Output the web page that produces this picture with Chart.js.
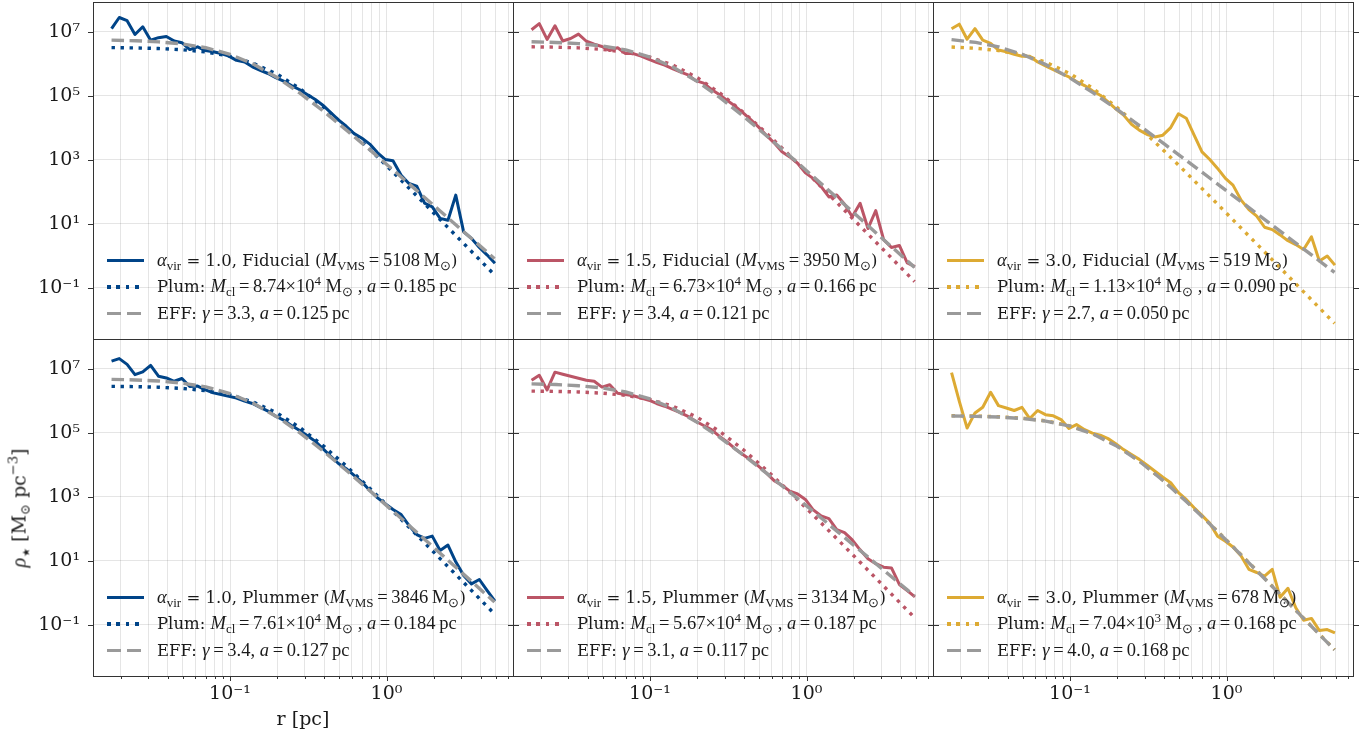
<!DOCTYPE html>
<html>
<head>
<meta charset="utf-8">
<script src="https://cdn.jsdelivr.net/npm/chart.js@4.4.1/dist/chart.umd.min.js"></script>
<style>
  body { margin: 0; background: #fff; width: 1369px; height: 735px; position: relative; overflow: hidden; }
  canvas { position: absolute; }
  .legend { position: absolute; font-family: 'DejaVu Serif', serif; font-size: 16.5px; color: #1a1a1a; white-space: nowrap; }
  .row { height: 26.5px; display: flex; align-items: center; }
  .sample { width: 37px; height: 3.5px; margin-right: 13px; flex: none; }
  .mi { font-family: 'Liberation Serif', serif; font-style: italic; font-size: 18.5px; }
  .mr { font-family: 'Liberation Serif', serif; font-size: 18.5px; }
  .sb { font-family: 'Liberation Serif', serif; font-size: 13px; position: relative; top: 4px; }
  .sp { font-family: 'Liberation Serif', serif; font-size: 13px; position: relative; top: -7px; }
  .title { position: absolute; font-family: 'DejaVu Serif', serif; font-size: 19px; color: #1a1a1a; white-space: nowrap; }
</style>
</head>
<body>
<script>
// radial bins of the simulated profiles (pc)
const radii = [0.0175, 0.0196, 0.0220, 0.0247, 0.0277, 0.0311, 0.0349, 0.0392, 0.0440, 0.0493,
               0.0553, 0.0621, 0.0697, 0.0782, 0.0877, 0.0984, 0.110, 0.124, 0.139, 0.156,
               0.175, 0.196, 0.220, 0.247, 0.277, 0.311, 0.349, 0.392, 0.440, 0.493,
               0.553, 0.621, 0.697, 0.782, 0.877, 0.984, 1.10, 1.24, 1.39, 1.56,
               1.75, 1.96, 2.20, 2.47, 2.77, 3.11, 3.49, 3.92, 4.40, 4.93];
// radii where the fitted profiles are read
const fitRadii = [0.0175, 0.025, 0.035, 0.05, 0.07, 0.1, 0.14, 0.2, 0.28, 0.4, 0.56, 0.8, 1.1, 1.6, 2.2, 3.1, 4.4, 4.9];

// density profiles (Msun pc^-3)
const fidA10 = [1.26e7, 2.82e7, 2.24e7, 8.3e6, 1.45e7, 5.5e6, 6.6e6, 7.2e6, 5.2e6, 4.6e6,
                2.8e6, 3.4e6, 2.6e6, 2.4e6, 2.1e6, 1.74e6, 1.29e6, 1.15e6, 8.1e5, 6.3e5,
                5.0e5, 3.7e5, 2.9e5, 2.1e5, 1.58e5, 1.10e5, 7.8e4, 5.1e4, 3.0e4, 1.78e4,
                1.12e4, 6.6e3, 4.7e3, 3.1e3, 1.66e3, 1.02e3, 930, 331, 182, 151,
                44, 34, 14.8, 12.9, 79, 5.6, 3.5, 1.82, 1.05, 0.58];
const fidA15 = [1.17e7, 1.82e7, 5.8e6, 1.55e7, 5.2e6, 6.2e6, 8.5e6, 5.1e6, 4.1e6, 3.5e6,
                2.6e6, 3.2e6, 2.1e6, 2.1e6, 1.74e6, 1.38e6, 1.12e6, 9.1e5, 7.1e5, 5.6e5,
                4.5e5, 3.0e5, 2.5e5, 1.58e5, 1.10e5, 7.2e4, 4.8e4, 3.0e4, 1.82e4, 1.07e4,
                5.9e3, 3.4e3, 1.78e3, 1.23e3, 780, 390, 263, 145, 69, 79,
                41, 16.6, 44, 7.1, 26, 3.2, 1.82, 2.1, 0.60, 0.46];
const fidA30 = [1.26e7, 1.74e7, 5.9e6, 1.26e7, 5.5e6, 4.4e6, 2.7e6, 2.4e6, 2.0e6, 1.74e6,
                1.74e6, 1.15e6, 8.7e5, 6.6e5, 5.0e5, 3.9e5, 2.8e5, 2.1e5, 1.45e5, 1.05e5,
                6.5e4, 3.9e4, 2.5e4, 1.29e4, 8.5e3, 6.2e3, 5.2e3, 5.9e3, 1.02e4, 2.75e4,
                2.0e4, 5.9e3, 1.78e3, 1.02e3, 540, 263, 162, 55, 28, 17.4,
                7.8, 6.6, 4.5, 2.95, 2.24, 1.58, 3.9, 0.69, 0.98, 0.51];
const plumA10 = [1.74e7, 2.1e7, 1.38e7, 6.6e6, 8.1e6, 1.29e7, 5.9e6, 5.2e6, 4.1e6, 5.0e6,
                 2.8e6, 2.9e6, 2.2e6, 1.78e6, 1.58e6, 1.38e6, 1.23e6, 9.8e5, 8.3e5, 6.3e5,
                 4.8e5, 3.3e5, 2.5e5, 1.70e5, 1.20e5, 8.3e4, 5.5e4, 3.2e4, 1.86e4, 1.10e4,
                 7.6e3, 4.7e3, 2.9e3, 1.58e3, 930, 600, 400, 280, 129, 66,
                 50, 59, 21, 31, 9.3, 3.5, 1.9, 2.6, 1.17, 0.55];
const plumA15 = [4.4e6, 6.3e6, 2.2e6, 7.9e6, 6.8e6, 5.9e6, 5.1e6, 4.4e6, 4.1e6, 2.7e6,
                 3.2e6, 1.74e6, 1.58e6, 1.45e6, 1.23e6, 1.05e6, 8.3e5, 6.8e5, 5.4e5, 4.3e5,
                 3.3e5, 2.3e5, 1.70e5, 1.26e5, 7.9e4, 5.2e4, 3.2e4, 2.1e4, 1.41e4, 9.1e3,
                 5.6e3, 3.2e3, 2.3e3, 1.51e3, 1.23e3, 830, 400, 251, 209, 95,
                 76, 45, 22, 11.5, 8.1, 6.3, 6.0, 1.82, 1.17, 0.74];
const plumA30 = [7.6e6, 9.8e5, 1.41e5, 4.2e5, 6.3e5, 1.86e6, 7.1e5, 6.0e5, 5.0e5, 6.3e5,
                 2.8e5, 5.0e5, 3.7e5, 3.4e5, 2.6e5, 1.38e5, 1.82e5, 1.26e5, 9.8e4, 8.5e4,
                 6.6e4, 4.6e4, 3.0e4, 2.1e4, 1.48e4, 9.8e3, 6.3e3, 4.1e3, 2.75e3, 1.35e3,
                 830, 457, 263, 148, 59, 41, 27, 14.1, 5.4, 4.3,
                 3.3, 5.4, 0.72, 1.38, 0.34, 0.138, 0.158, 0.066, 0.071, 0.056];

// Plummer fits
const fidA10Plum = [3.22e6, 3.15e6, 3.02e6, 2.76e6, 2.36e6, 1.74e6, 1.06e6, 4.75e5, 1.68e5, 4.30e4, 1.00e4, 1.91e3, 414, 65.9, 13.6, 2.47, 0.431, 0.252];
const fidA15Plum = [3.42e6, 3.33e6, 3.16e6, 2.83e6, 2.33e6, 1.62e6, 9.18e5, 3.73e5, 1.21e5, 2.91e4, 6.52e3, 1.22e3, 260, 41.1, 8.47, 1.54, 0.268, 0.156];
const fidA30Plum = [3.37e6, 3.07e6, 2.60e6, 1.89e6, 1.13e6, 4.95e5, 1.71e5, 4.31e4, 9.93e3, 1.88e3, 372, 64.6, 13.3, 2.07, 0.422, 0.0760, 0.0132, 0.00773];
const plumA10Plum = [2.85e6, 2.79e6, 2.67e6, 2.44e6, 2.08e6, 1.53e6, 9.31e5, 4.15e5, 1.46e5, 3.72e4, 8.65e3, 1.65e3, 356, 56.8, 11.7, 2.13, 0.372, 0.217];
const plumA15Plum = [2.02e6, 1.98e6, 1.90e6, 1.74e6, 1.49e6, 1.10e6, 6.81e5, 3.08e5, 1.09e5, 2.82e4, 6.59e3, 1.26e3, 274, 43.7, 9.02, 1.64, 0.286, 0.167];
const plumA30Plum = [3.45e5, 3.36e5, 3.19e5, 2.87e5, 2.38e5, 1.66e5, 9.48e4, 3.91e4, 1.28e4, 3.09e3, 695, 130, 27.8, 4.41, 0.908, 0.164, 0.0287, 0.0167];

// EFF fits
const fidA10Eff = [5.52e6, 5.28e6, 4.89e6, 4.18e6, 3.20e6, 1.99e6, 1.00e6, 3.75e5, 1.21e5, 3.17e4, 8.20e3, 1.87e3, 486, 98.4, 25.2, 5.78, 1.29, 0.81];
const fidA15Eff = [4.90e6, 4.68e6, 4.30e6, 3.62e6, 2.72e6, 1.63e6, 7.91e5, 2.83e5, 8.77e4, 2.19e4, 5.48e3, 1.20e3, 303, 58.9, 14.6, 3.24, 0.695, 0.434];
const fidA30Eff = [5.71e6, 4.69e6, 3.39e6, 1.96e6, 9.51e5, 3.61e5, 1.26e5, 3.75e4, 1.14e4, 3.13e3, 916, 247, 76.0, 19.1, 5.87, 1.65, 0.452, 0.303];
const plumA10Eff = [4.70e6, 4.51e6, 4.17e6, 3.56e6, 2.74e6, 1.69e6, 8.51e5, 3.15e5, 1.00e5, 2.55e4, 6.41e3, 1.41e3, 356, 69.7, 17.3, 3.83, 0.822, 0.512];
const plumA15Eff = [3.39e6, 3.24e6, 2.98e6, 2.52e6, 1.90e6, 1.15e6, 5.74e5, 2.15e5, 7.13e4, 1.94e4, 5.30e3, 1.28e3, 355, 77.3, 21.0, 5.18, 1.23, 0.79];
const plumA30Eff = [3.37e5, 3.28e5, 3.12e5, 2.81e5, 2.32e5, 1.63e5, 9.27e4, 3.82e4, 1.25e4, 3.02e3, 679, 127, 27.2, 4.31, 0.887, 0.161, 0.0281, 0.0164];

// legend texts
const alphaVir = ['1.0', '1.5', '3.0', '1.0', '1.5', '3.0'];
const setupNames = ['Fiducial', 'Fiducial', 'Fiducial', 'Plummer', 'Plummer', 'Plummer'];
const mVms = ['5108', '3950', '519', '3846', '3134', '678'];
const plumMass = ['8.74', '6.73', '1.13', '7.61', '5.67', '7.04'];
const plumExp = ['4', '4', '4', '4', '4', '3'];
const plumA = ['0.185', '0.166', '0.090', '0.184', '0.187', '0.168'];
const effGamma = ['3.3', '3.4', '2.7', '3.4', '3.1', '4.0'];
const effA = ['0.125', '0.121', '0.050', '0.127', '0.117', '0.168'];

// ticks
const xTickValues = [0.02, 0.03, 0.04, 0.05, 0.06, 0.07, 0.08, 0.09, 0.1, 0.2, 0.3, 0.4, 0.5, 0.6, 0.7, 0.8, 0.9, 1, 2, 3, 4, 5, 6];
const xMajor = [0.1, 1];
const xTickLabels = ['10⁻¹', '10⁰'];
const yTickValues = [0.1, 10, 1000, 1e5, 1e7];
const yTickLabels = ['10⁻¹', '10¹', '10³', '10⁵', '10⁷'];

const colors = ['#004488', '#BB5566', '#DDAA33'];
const effColor = '#9a9a9a';

const sims = [fidA10, fidA15, fidA30, plumA10, plumA15, plumA30];
const plums = [fidA10Plum, fidA15Plum, fidA30Plum, plumA10Plum, plumA15Plum, plumA30Plum];
const effs = [fidA10Eff, fidA15Eff, fidA30Eff, plumA10Eff, plumA15Eff, plumA30Eff];

const colLeft = [93, 513, 933];
const rowTop = [2, 339];
const panelW = 420, panelH = 337;
const padL = 95, padT = 6, padR = 8, padB = 60;

// frame and tick marks round each panel
const framePlugin = {
    id: 'frame',
    afterDraw(chart, args, opts) {
        const { ctx, chartArea: a } = chart;
        const x = chart.scales.x, y = chart.scales.y;
        ctx.save();
        ctx.strokeStyle = '#333';
        ctx.lineWidth = 1;
        ctx.strokeRect(a.left + 0.5, a.top + 0.5, a.right - a.left, a.bottom - a.top);
        ctx.beginPath();
        yTickValues.forEach(v => {
            const py = Math.round(y.getPixelForValue(v)) + 0.5;
            ctx.moveTo(a.left - 5, py); ctx.lineTo(a.left, py);
            ctx.moveTo(a.right, py); ctx.lineTo(a.right + 6, py);
        });
        if (opts.bottom) {
            xTickValues.forEach(v => {
                const px = Math.round(x.getPixelForValue(v)) + 0.5;
                const len = xMajor.includes(v) ? 5 : 3;
                ctx.moveTo(px, a.bottom); ctx.lineTo(px, a.bottom + len);
            });
        }
        ctx.stroke();
        ctx.restore();
    }
};

function toPoints(rs, vals) {
    return rs.map((r, i) => ({ x: r, y: vals[i] }));
}

function makePanel(k) {
    const col = k % 3, row = Math.floor(k / 3);
    const canvas = document.createElement('canvas');
    canvas.width = padL + panelW + padR;
    canvas.height = padT + panelH + padB;
    canvas.style.left = (colLeft[col] - padL) + 'px';
    canvas.style.top = (rowTop[row] - padT) + 'px';
    document.body.appendChild(canvas);

    const color = colors[col];
    new Chart(canvas.getContext('2d'), {
        type: 'line',
        data: {
            datasets: [
                { data: toPoints(fitRadii, effs[k]), borderColor: effColor, borderWidth: 3.4, borderDash: [12.5, 5.5], borderCapStyle: 'butt', order: 0 },
                { data: toPoints(fitRadii, plums[k]), borderColor: color, borderWidth: 3.4, borderDash: [3.4, 5.6], borderCapStyle: 'butt', order: 1 },
                { data: toPoints(radii, sims[k]), borderColor: color, borderWidth: 3, borderJoinStyle: 'round', order: 2 }
            ]
        },
        options: {
            responsive: false,
            animation: false,
            devicePixelRatio: 1,
            layout: { padding: { top: padT, right: padR, left: 0, bottom: 0 } },
            elements: { point: { radius: 0 }, line: { tension: 0 } },
            plugins: { legend: { display: false }, tooltip: { enabled: false }, frame: { bottom: row === 1 } },
            scales: {
                x: {
                    type: 'logarithmic', min: 0.01332, max: 6.43,
                    afterBuildTicks: s => { s.ticks = xTickValues.map(v => ({ value: v })); },
                    afterFit: s => { s.height = padB; s.paddingLeft = 0; s.paddingRight = 0; },
                    grid: { color: 'rgba(0,0,0,0.1)', lineWidth: 1, drawTicks: false },
                    border: { display: false },
                    ticks: {
                        display: row === 1, autoSkip: false, maxRotation: 0, padding: 7,
                        color: '#1a1a1a', font: { family: 'DejaVu Serif', size: 19 },
                        callback: v => { const i = xMajor.indexOf(v); return i >= 0 ? xTickLabels[i] : ''; }
                    }
                },
                y: {
                    type: 'logarithmic', min: 0.0025, max: 8.6e7,
                    afterBuildTicks: s => { s.ticks = yTickValues.map(v => ({ value: v })); },
                    afterFit: s => { s.width = padL; s.paddingTop = 0; s.paddingBottom = 0; },
                    grid: { color: 'rgba(0,0,0,0.1)', lineWidth: 1, drawTicks: false },
                    border: { display: false },
                    ticks: {
                        display: col === 0, autoSkip: false, padding: 13,
                        color: '#1a1a1a', font: { family: 'DejaVu Serif', size: 19 },
                        callback: v => { const i = yTickValues.indexOf(v); return i >= 0 ? yTickLabels[i] : ''; }
                    }
                }
            }
        },
        plugins: [framePlugin]
    });

    // legend, lower left of the panel
    const leg = document.createElement('div');
    leg.className = 'legend';
    leg.style.left = (colLeft[col] + 14) + 'px';
    leg.style.top = (rowTop[row] + 245) + 'px';
    const solid = `background:${color}`;
    const dotted = `background:repeating-linear-gradient(90deg, ${color} 0 3.5px, transparent 3.5px 9.5px)`;
    const dashed = `background:repeating-linear-gradient(90deg, ${effColor} 0 14px, transparent 14px 20px)`;
    leg.innerHTML =
        `<div class="row"><span class="sample" style="${solid}"></span>` +
        `<span><span class="mi">α</span><span class="sb">vir</span> = ${alphaVir[k]}, ${setupNames[k]} (<span class="mi">M</span><span class="sb">VMS</span><span class="mr">&thinsp;=&thinsp;${mVms[k]}&thinsp;M</span><span class="sb">⊙</span>)</span></div>` +
        `<div class="row"><span class="sample" style="${dotted}"></span>` +
        `<span>Plum: <span class="mi">M</span><span class="sb">cl</span><span class="mr">&thinsp;=&thinsp;${plumMass[k]}×10</span><span class="sp">${plumExp[k]}</span><span class="mr"> M</span><span class="sb">⊙</span><span class="mr"> , <i>a</i>&thinsp;=&thinsp;${plumA[k]}&thinsp;pc</span></span></div>` +
        `<div class="row"><span class="sample" style="${dashed}"></span>` +
        `<span>EFF: <span class="mr"><i>γ</i>&thinsp;=&thinsp;${effGamma[k]}, <i>a</i>&thinsp;=&thinsp;${effA[k]}&thinsp;pc</span></span></div>`;
    document.body.appendChild(leg);
}

for (let k = 0; k < 6; k++) makePanel(k);

// axis titles
const xt = document.createElement('div');
xt.className = 'title';
xt.style.left = '303px'; xt.style.top = '718px';
xt.style.transform = 'translate(-50%, -50%)';
xt.textContent = 'r [pc]';
document.body.appendChild(xt);

const yt = document.createElement('div');
yt.className = 'title';
yt.style.left = '19px'; yt.style.top = '508px';
yt.style.transform = 'translate(-50%, -50%) rotate(-90deg)';
yt.innerHTML = '<span class="mi" style="font-size:20px">ρ</span><span style="font-family:\'DejaVu Sans\';font-size:10px;position:relative;top:4px;margin-left:1px">★</span> [M<span style="font-size:13px;position:relative;top:4px">⊙</span> pc<span style="font-size:13px;position:relative;top:-8px">−3</span>]';
document.body.appendChild(yt);
</script>
</body>
</html>
